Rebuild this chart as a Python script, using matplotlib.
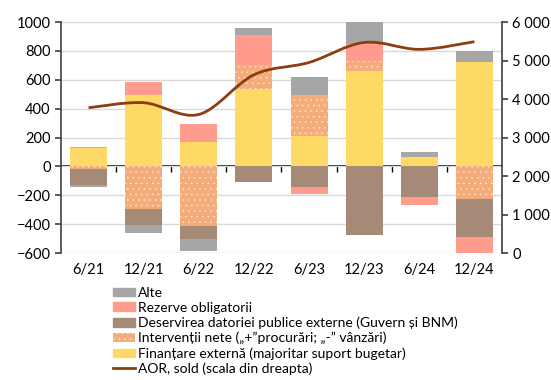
import numpy as np
import matplotlib.pyplot as plt
from matplotlib.path import Path
from matplotlib.patches import PathPatch, Patch
from matplotlib.lines import Line2D

plt.rcParams['font.family'] = ['Lato', 'DejaVu Sans']
plt.rcParams['hatch.linewidth'] = 0.3

categories = ['6/21', '12/21', '6/22', '12/22', '6/23', '12/23', '6/24', '12/24']

# mil. USD, stacked from the zero line in this order
finantare = [130, 495, 170, 535, 212, 658, 62, 722]
interventii = [-15, -298, -413, 166, 280, 71, 5, -226]
deservire = [-115, -108, -90, -106, -143, -478, -213, -264]
rezerve = [5, 90, 123, 207, -49, 118, -53, -117]
alte = [-15, -54, -81, 54, 129, 160, 30, 76]

# reserve assets stock, right axis
aor_sold = [3775, 3905, 3600, 4630, 4950, 5470, 5290, 5490]

c_alte = '#a6a6a6'
c_rez = '#ff9c8e'
c_des = '#a58a77'
c_int = '#f5ac7b'
c_fin = '#ffd966'
c_aor = '#8b3e12'
dot = '#fdf1e8'

fig = plt.figure(figsize=(5.51, 3.80), dpi=100)
ax = fig.add_axes([0.1107, 0.334, 0.8003, 0.608])
ax2 = ax.twinx()

x = np.arange(len(categories))
w = 0.67
pos = np.zeros(len(x))
neg = np.zeros(len(x))
series = [(finantare, c_fin, None), (interventii, c_int, '...'),
          (deservire, c_des, None), (rezerve, c_rez, None), (alte, c_alte, None)]
for vals, col, hatch in series:
    v = np.array(vals, dtype=float)
    base = np.where(v >= 0, pos, neg)
    ax.bar(x, v, w, bottom=base, color=col, hatch=hatch,
           edgecolor=dot if hatch else col, linewidth=0, zorder=2)
    pos += np.where(v >= 0, v, 0)
    neg += np.where(v < 0, v, 0)

ax.set_xlim(-0.5, len(x) - 0.5)
ax.set_ylim(-600, 1000)
ax.set_yticks(np.arange(-600, 1001, 200))
ax.yaxis.grid(True, color='#d9d9d9', lw=1, zorder=0)
ax.set_axisbelow(True)
ax.set_xticks(x)
ax.set_xticklabels(categories)
ax.tick_params(axis='x', length=0, pad=7, labelsize=10.5)
ax.tick_params(axis='y', labelsize=10.5, length=4, width=1.2, color='#404040')
for s in ['top', 'bottom', 'right']:
    ax.spines[s].set_visible(False)
ax.spines['left'].set_color('#404040')
ax.spines['left'].set_linewidth(1.2)

# zero line with category separators
sec = ax.secondary_xaxis(0.375)
sec.set_xticks(x[:-1] + 0.5)
sec.tick_params(length=4, width=1, labelbottom=False, color='black')
sec.spines['bottom'].set_color('black')
sec.spines['bottom'].set_linewidth(1.2)

# smoothed AOR line drawn as cubic bezier segments
pts = np.column_stack([x, aor_sold]).astype(float)
verts = [pts[0]]
codes = [Path.MOVETO]
n = len(pts)
for i in range(n - 1):
    p0 = pts[i - 1] if i > 0 else pts[i]
    p3 = pts[i + 2] if i + 2 < n else pts[i + 1]
    c1 = pts[i] + (pts[i + 1] - p0) / 6
    c2 = pts[i + 1] - (p3 - pts[i]) / 6
    verts += [c1, c2, pts[i + 1]]
    codes += [Path.CURVE4] * 3
ax2.add_patch(PathPatch(Path(verts, codes), fc='none', ec=c_aor, lw=2, zorder=3))
ax2.set_ylim(0, 6000)
ax2.set_yticks(np.arange(0, 6001, 1000))
ax2.set_yticklabels(['0', '1 000', '2 000', '3 000', '4 000', '5 000', '6 000'])
ax2.tick_params(axis='y', labelsize=10.5, length=4, width=1.2, color='#404040')
for s in ['top', 'bottom', 'left']:
    ax2.spines[s].set_visible(False)
ax2.spines['right'].set_color('#404040')
ax2.spines['right'].set_linewidth(1.2)

handles = [
    Patch(color=c_alte),
    Patch(color=c_rez),
    Patch(color=c_des),
    Patch(facecolor=c_int, hatch='...', edgecolor=dot, lw=0),
    Patch(color=c_fin),
    Line2D([], [], color=c_aor, lw=2),
]
labels = [
    'Alte',
    'Rezerve obligatorii',
    'Deservirea datoriei publice externe (Guvern și BNM)',
    'Intervenții nete („+”procurări; „-” vânzări)',
    'Finanțare externă (majoritar suport bugetar)',
    'AOR, sold (scala din dreapta)',
]
fig.legend(handles, labels, loc='upper left', bbox_to_anchor=(0.205, 0.245),
           frameon=False, fontsize=10, handlelength=1.6, handleheight=0.6,
           handletextpad=0.2, labelspacing=0.2, borderpad=0, borderaxespad=0)

fig.savefig('out.png', dpi=100)
